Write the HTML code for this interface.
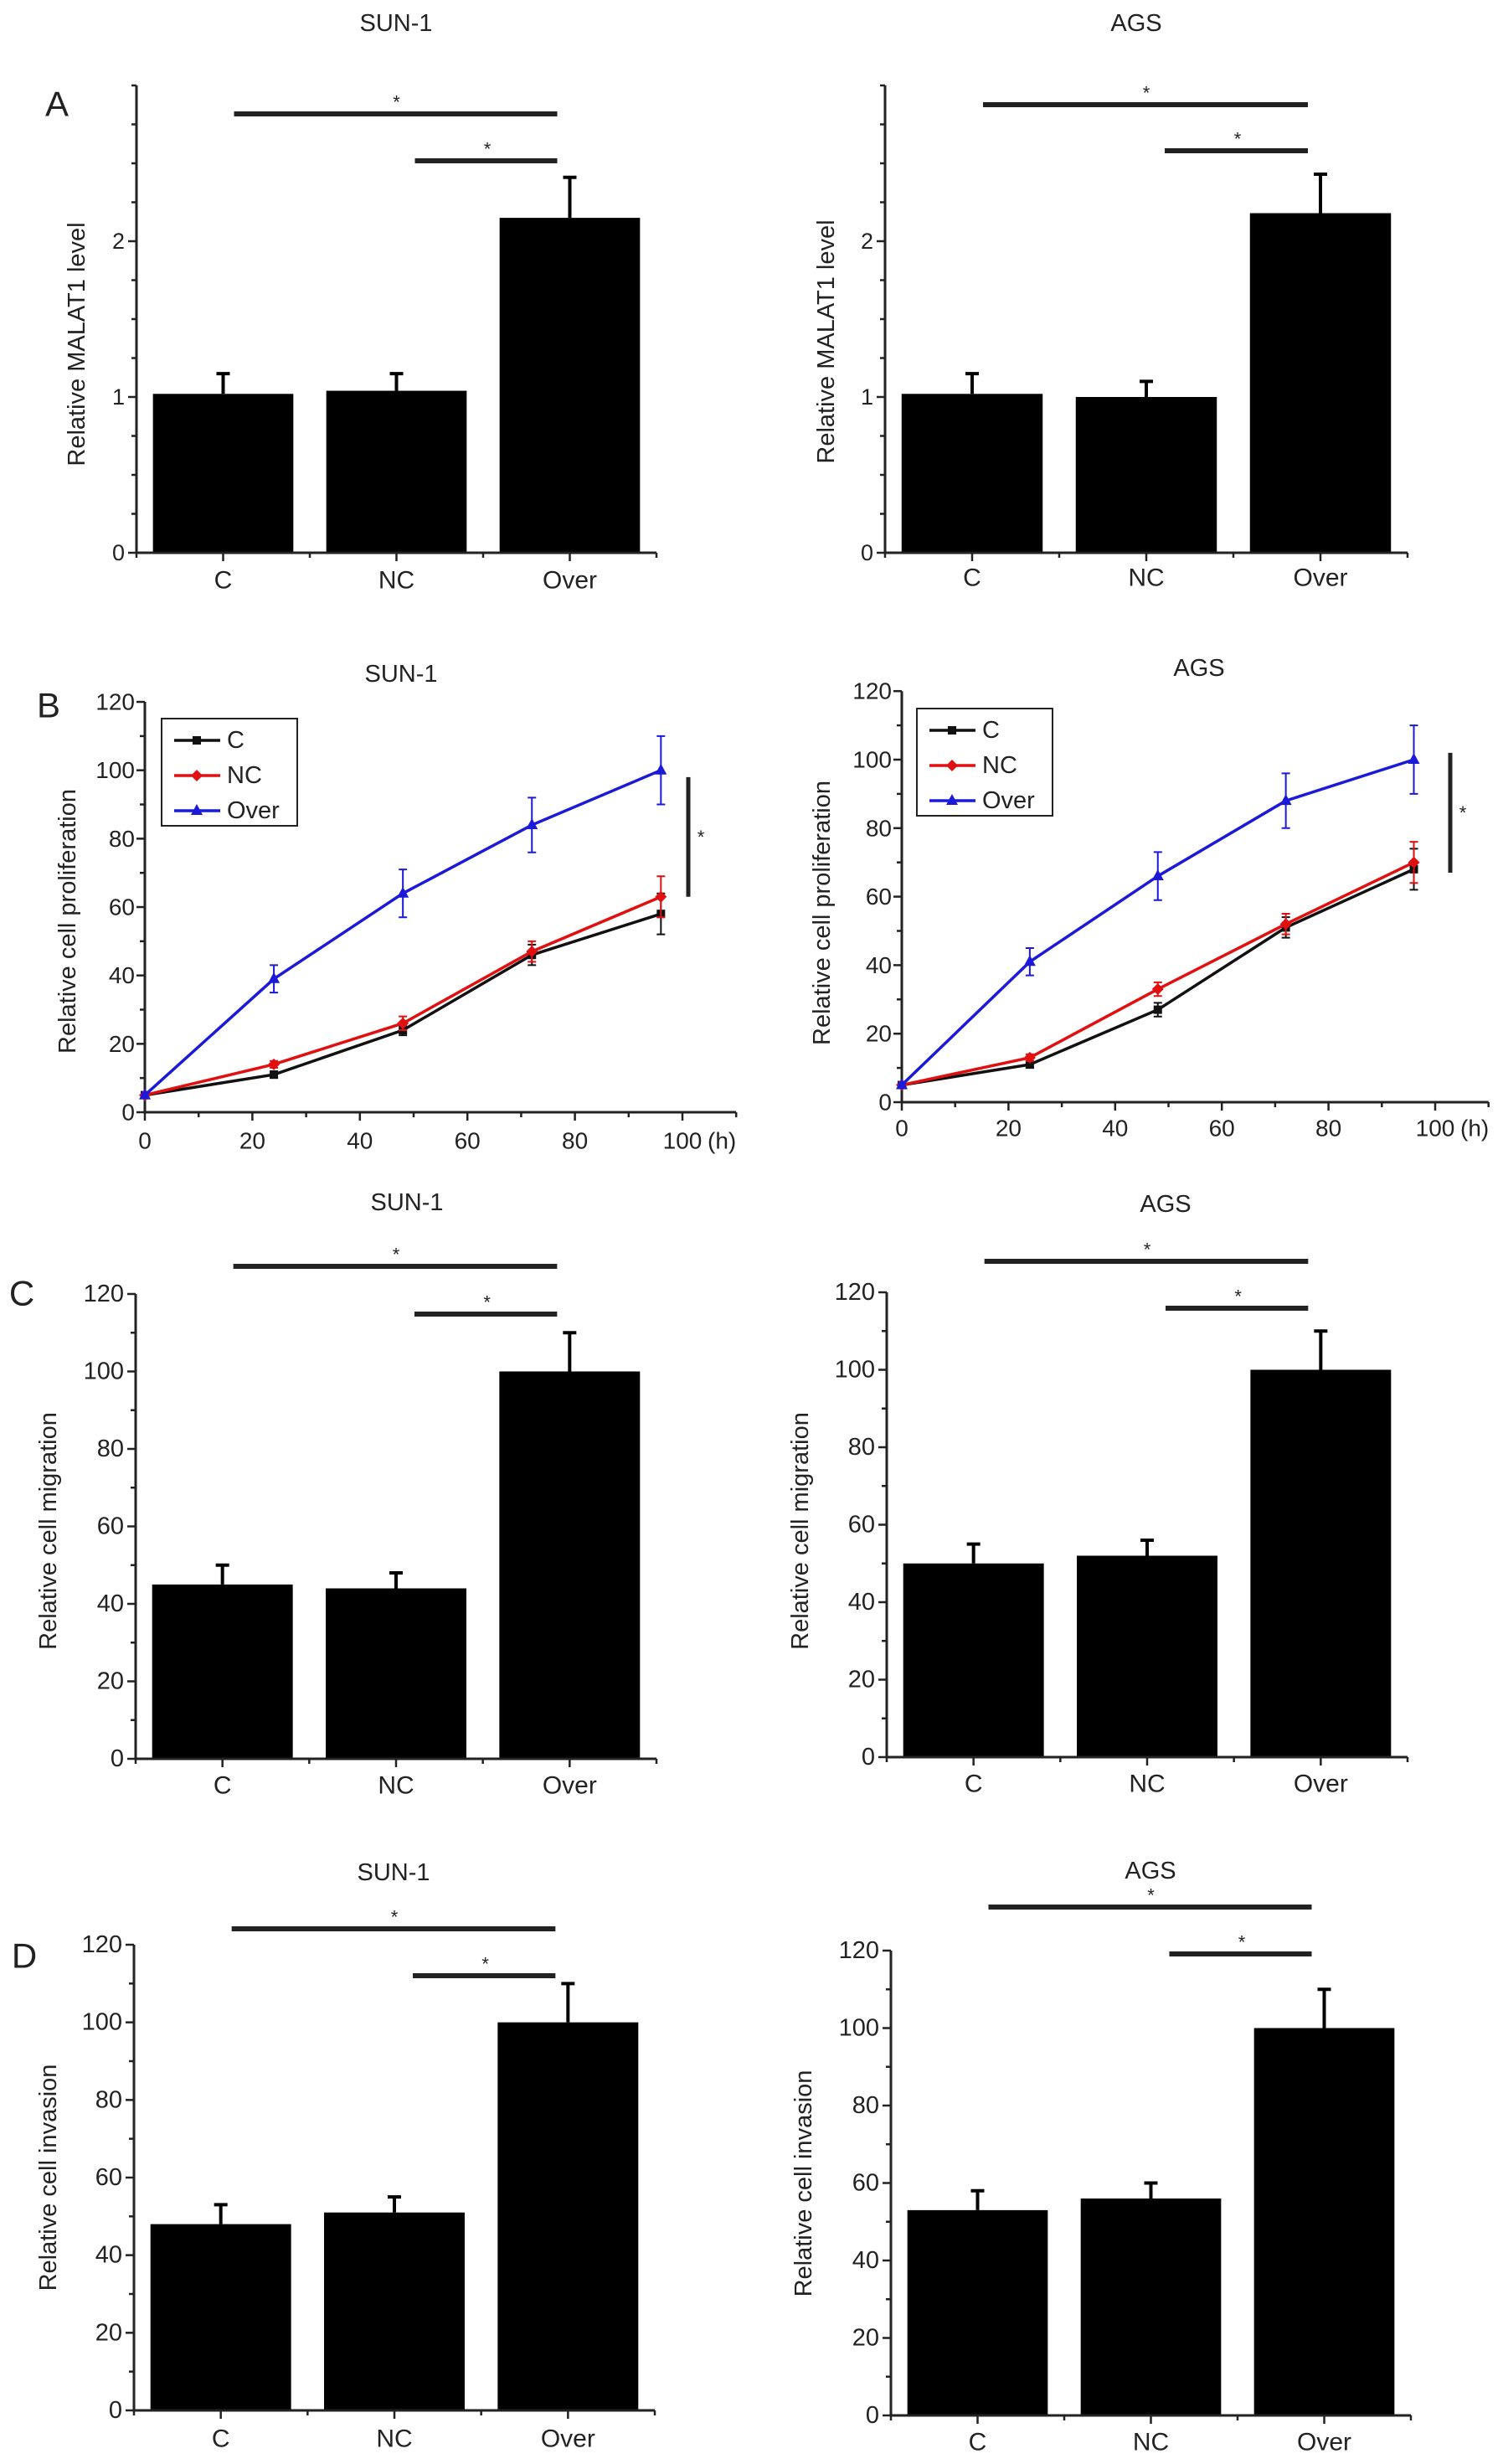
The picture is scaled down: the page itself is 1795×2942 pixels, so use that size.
<!DOCTYPE html>
<html><head><meta charset="utf-8"><title>MALAT1 figure</title>
<style>
html,body{margin:0;padding:0;background:#fff;}
svg{display:block;}
text{font-family:"Liberation Sans",Arial,sans-serif;fill:#222;}
</style></head>
<body>
<svg id="fig" width="1795" height="2942" viewBox="0 0 1795 2942" xmlns="http://www.w3.org/2000/svg"></svg>
<script>
// ---------- DATA ----------
const catLabels = ['C', 'NC', 'Over'];
const aSunVals = [1.02, 1.04, 2.15];
const aSunErr  = [0.13, 0.11, 0.26];
const aAgsVals = [1.02, 1.00, 2.18];
const aAgsErr  = [0.13, 0.10, 0.25];
const aTicks = [0, 1, 2];
const cSunVals = [45, 44, 100];
const cSunErr  = [5, 4, 10];
const cAgsVals = [50, 52, 100];
const cAgsErr  = [5, 4, 10];
const dSunVals = [48, 51, 100];
const dSunErr  = [5, 4, 10];
const dAgsVals = [53, 56, 100];
const dAgsErr  = [5, 4, 10];
const pctTicks = [0, 20, 40, 60, 80, 100, 120];
const timePoints = [0, 24, 48, 72, 96];
const xTimeTicks = [0, 20, 40, 60, 80, 100];
const bSunC    = [5, 11, 24, 46, 58];
const bSunCErr = [0.5, 1, 1.5, 3, 6];
const bSunNC    = [5, 14, 26, 47, 63];
const bSunNCErr = [0.5, 1, 2, 3, 6];
const bSunOver    = [5, 39, 64, 84, 100];
const bSunOverErr = [0.5, 4, 7, 8, 10];
const bAgsC    = [5, 11, 27, 51, 68];
const bAgsCErr = [0.5, 1, 2, 3, 6];
const bAgsNC    = [5, 13, 33, 52, 70];
const bAgsNCErr = [0.5, 1, 2, 3, 6];
const bAgsOver    = [5, 41, 66, 88, 100];
const bAgsOverErr = [0.5, 4, 7, 8, 10];

// ---------- HELPERS ----------
const NS = 'http://www.w3.org/2000/svg';
const svg = document.getElementById('fig');
function mk(tag, attrs, parent) {
  const el = document.createElementNS(NS, tag);
  for (const k in attrs) el.setAttribute(k, attrs[k]);
  (parent || svg).appendChild(el);
  return el;
}
function txt(x, y, s, size, parent, anchor, extra) {
  const t = mk('text', {x: x, y: y, 'font-size': size, 'text-anchor': anchor || 'middle', 'dominant-baseline': 'central'}, parent);
  if (extra) t.setAttribute('transform', extra);
  t.textContent = s;
  return t;
}

function barChart(id, L, vals, errs, ticks, yMax, minorStep) {
  const g = mk('g', {});
  
  
  const ys = v => L.base - (v / yMax) * (L.base - L.top);
  const band = (L.xEnd - L.x0) / 3;
  const cx = i => L.x0 + band * (i + 0.5);
  // title
  const t = txt(L.tx, L.ty, L.title, 29, g);
  
  
  if (L.letter) {
    const p = txt(L.lx, L.ly, L.letter, 42, g);
    
    
  }
  // bars
  vals.forEach((v, i) => {
    const w = band * 0.81;
    const r = mk('rect', {x: cx(i) - w / 2, y: ys(v), width: w, height: L.base - ys(v), fill: '#000'}, g);
    
    
    const e = mk('path', {d: 'M' + cx(i) + ',' + ys(v) + 'V' + ys(v + errs[i]) + 'M' + (cx(i) - 8) + ',' + ys(v + errs[i]) + 'H' + (cx(i) + 8), stroke: '#000', 'stroke-width': 4, fill: 'none'}, g);
    
    
  });
  // axes
  const ax = mk('path', {d: 'M' + L.x0 + ',' + L.top + 'V' + L.base + 'H' + L.xEnd, stroke: '#222', 'stroke-width': 3, fill: 'none'}, g);
  
  
  for (let v = 0; v <= yMax + 1e-9; v += minorStep) {
    const major = ticks.some(tk => Math.abs(tk - v) < 1e-9);
    mk('line', {x1: L.x0 - (major ? 10 : 6), x2: L.x0, y1: ys(v), y2: ys(v), stroke: '#222', 'stroke-width': 2.5}, g);
  }
  ticks.forEach(v => {
    const tl = txt(L.x0 - 14, ys(v), String(v), L.tickSize, g, 'end');
    
    
  });
  for (let i = 0; i <= 3; i++) {
    mk('line', {x1: L.x0 + band * i, x2: L.x0 + band * i, y1: L.base, y2: L.base + 6, stroke: '#222', 'stroke-width': 2.5}, g);
  }
  catLabels.forEach((c, i) => {
    mk('line', {x1: cx(i), x2: cx(i), y1: L.base, y2: L.base + 10, stroke: '#222', 'stroke-width': 2.5}, g);
    const xl = txt(cx(i), L.xly, c, 30, g);
    
    
  });
  const yl = txt(L.ylx, L.yly, L.ylabel, 29, g, 'middle', 'rotate(-90 ' + L.ylx + ' ' + L.yly + ')');
  
  
  // significance
  const s1 = mk('line', {x1: cx(0) + 13, x2: cx(2) - 15, y1: L.s1y, y2: L.s1y, stroke: '#222', 'stroke-width': 6}, g);
  
  
  const st1 = txt((cx(0) + cx(2)) / 2, L.s1y - 14, '*', 22, g);
  
  
  const s2 = mk('line', {x1: cx(1) + 22, x2: cx(2) - 15, y1: L.s2y, y2: L.s2y, stroke: '#222', 'stroke-width': 6}, g);
  
  
  const st2 = txt((cx(1) + cx(2)) / 2 + 5, L.s2y - 14, '*', 22, g);
  
  
}

function lineChart(id, L, series) {
  const g = mk('g', {});
  
  
  const xs = v => L.x0 + v * L.xpu;
  const ys = v => L.base - v * L.ypu;
  const t = txt(L.tx, L.ty, L.title, 29, g);
  
  
  if (L.letter) {
    const p = txt(L.lx, L.ly, L.letter, 42, g);
    
    
  }
  const ax = mk('path', {d: 'M' + L.x0 + ',' + ys(120) + 'V' + L.base + 'H' + xs(110), stroke: '#222', 'stroke-width': 3, fill: 'none'}, g);
  
  
  for (let v = 0; v <= 120; v += 10) {
    mk('line', {x1: L.x0 - (v % 20 === 0 ? 10 : 6), x2: L.x0, y1: ys(v), y2: ys(v), stroke: '#222', 'stroke-width': 2.5}, g);
  }
  pctTicks.forEach(v => {
    const tl = txt(L.x0 - 12, ys(v), String(v), 28, g, 'end');
    
    
  });
  for (let v = 0; v <= 110; v += 10) {
    mk('line', {x1: xs(v), x2: xs(v), y1: L.base, y2: L.base + (v % 20 === 0 ? 10 : 6), stroke: '#222', 'stroke-width': 2.5}, g);
  }
  xTimeTicks.forEach(v => {
    const xl = txt(xs(v), L.xly, String(v), 28, g);
    
    
  });
  const hu = txt(xs(100) + 30, L.xly, '(h)', 28, g, 'start');
  
  
  const yl = txt(L.ylx, L.yly, 'Relative cell proliferation', 29, g, 'middle', 'rotate(-90 ' + L.ylx + ' ' + L.yly + ')');
  
  

  function marker(kind, x, y, color, parent) {
    let m;
    if (kind === 'square') m = mk('rect', {x: x - 5, y: y - 5, width: 10, height: 10, fill: color}, parent);
    else if (kind === 'diamond') m = mk('polygon', {points: (x) + ',' + (y - 7) + ' ' + (x + 7) + ',' + y + ' ' + x + ',' + (y + 7) + ' ' + (x - 7) + ',' + y, fill: color}, parent);
    else m = mk('polygon', {points: x + ',' + (y - 8) + ' ' + (x + 7) + ',' + (y + 5) + ' ' + (x - 7) + ',' + (y + 5), fill: color}, parent);
    return m;
  }
  series.forEach(s => {
    const sg = mk('g', {}, g);
    
    
    const d = s.vals.map((v, i) => (i ? 'L' : 'M') + xs(timePoints[i]) + ',' + ys(v)).join('');
    mk('path', {d: d, stroke: s.color, 'stroke-width': 3.5, fill: 'none'}, sg);
    s.vals.forEach((v, i) => {
      const x = xs(timePoints[i]);
      const e = mk('path', {d: 'M' + x + ',' + ys(v - s.err[i]) + 'V' + ys(v + s.err[i]) + 'M' + (x - 5) + ',' + ys(v - s.err[i]) + 'H' + (x + 5) + 'M' + (x - 5) + ',' + ys(v + s.err[i]) + 'H' + (x + 5), stroke: s.color, 'stroke-width': 2, fill: 'none'}, sg);
      
      
      const m = marker(s.marker, x, ys(v), s.color, sg);
      
      
    });
  });
  // legend
  const lg = mk('g', {}, g);
  
  
  mk('rect', {x: L.lgx, y: L.lgy, width: 162, height: 128, fill: '#fff', stroke: '#222', 'stroke-width': 2}, lg);
  series.forEach((s, i) => {
    const y = L.lgy + 26 + i * 42;
    const e = mk('g', {}, lg);
    
    
    mk('line', {x1: L.lgx + 15, x2: L.lgx + 70, y1: y, y2: y, stroke: s.color, 'stroke-width': 3.5}, e);
    marker(s.marker, L.lgx + 42, y, s.color, e);
    txt(L.lgx + 78, y, s.name, 29, e, 'start');
  });
  const sl = mk('line', {x1: L.sx, x2: L.sx, y1: ys(L.sTop), y2: ys(L.sBot), stroke: '#222', 'stroke-width': 5}, g);
  
  
  const st = txt(L.sx + 15, (ys(L.sTop) + ys(L.sBot)) / 2, '*', 22, g);
  
  
}

// ---------- PANELS ----------
barChart('panel-a-sun1', {x0:163, xEnd:784, base:660, top:102, title:'SUN-1', tx:473, ty:28, letter:'A', lx:68, ly:124,
  xly:693, ylx:92, yly:411, ylabel:'Relative MALAT1 level', s1y:136, s2y:192, tickSize:27}, aSunVals, aSunErr, aTicks, 3, 0.25);
barChart('panel-a-ags', {x0:1057, xEnd:1681, base:660, top:102, title:'AGS', tx:1357, ty:28,
  xly:690, ylx:987, yly:408, ylabel:'Relative MALAT1 level', s1y:125, s2y:180, tickSize:27}, aAgsVals, aAgsErr, aTicks, 3, 0.25);

lineChart('panel-b-sun1', {x0:173, xpu:6.42, base:1328, ypu:4.083, title:'SUN-1', tx:479, ty:805, letter:'B', lx:58, ly:842,
  xly:1362, ylx:81, yly:1100, lgx:193, lgy:858, sx:822, sTop:98, sBot:63},
  [{name:'C', vals:bSunC, err:bSunCErr, color:'#111', marker:'square'},
   {name:'NC', vals:bSunNC, err:bSunNCErr, color:'#e01010', marker:'diamond'},
   {name:'Over', vals:bSunOver, err:bSunOverErr, color:'#1a1ad8', marker:'triangle'}]);
lineChart('panel-b-ags', {x0:1077, xpu:6.37, base:1316, ypu:4.09, title:'AGS', tx:1432, ty:798,
  xly:1347, ylx:982, yly:1090, lgx:1095, lgy:846, sx:1732, sTop:102, sBot:67},
  [{name:'C', vals:bAgsC, err:bAgsCErr, color:'#111', marker:'square'},
   {name:'NC', vals:bAgsNC, err:bAgsNCErr, color:'#e01010', marker:'diamond'},
   {name:'Over', vals:bAgsOver, err:bAgsOverErr, color:'#1a1ad8', marker:'triangle'}]);

barChart('panel-c-sun1', {x0:162, xEnd:784, base:2100, top:1545, title:'SUN-1', tx:486, ty:1436, letter:'C', lx:26, ly:1544,
  xly:2132, ylx:58, yly:1828, ylabel:'Relative cell migration', s1y:1512, s2y:1569, tickSize:29}, cSunVals, cSunErr, pctTicks, 120, 10);
barChart('panel-c-ags', {x0:1059, xEnd:1681, base:2098, top:1543, title:'AGS', tx:1392, ty:1438,
  xly:2130, ylx:956, yly:1828, ylabel:'Relative cell migration', s1y:1506, s2y:1562, tickSize:29}, cAgsVals, cAgsErr, pctTicks, 120, 10);

barChart('panel-d-sun1', {x0:160, xEnd:782, base:2878, top:2322, title:'SUN-1', tx:470, ty:2236, letter:'D', lx:29, ly:2335,
  xly:2912, ylx:58, yly:2600, ylabel:'Relative cell invasion', s1y:2303, s2y:2359, tickSize:29}, dSunVals, dSunErr, pctTicks, 120, 10);
barChart('panel-d-ags', {x0:1064, xEnd:1685, base:2884, top:2329, title:'AGS', tx:1374, ty:2234,
  xly:2916, ylx:960, yly:2607, ylabel:'Relative cell invasion', s1y:2277, s2y:2333, tickSize:29}, dAgsVals, dAgsErr, pctTicks, 120, 10);
</script>
</body></html>
